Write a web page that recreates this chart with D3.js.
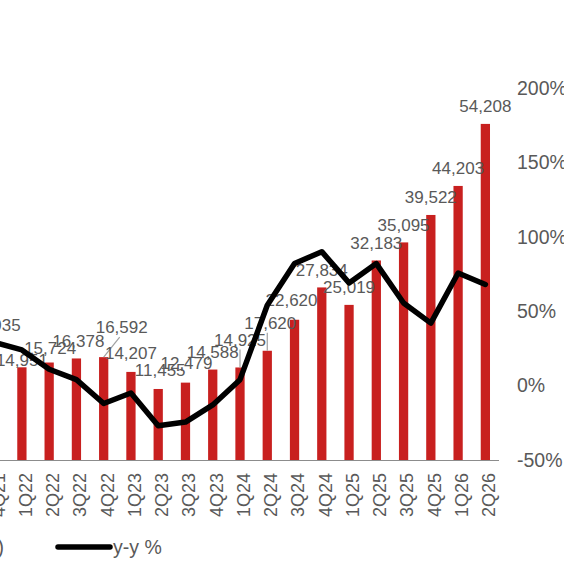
<!DOCTYPE html>
<html>
<head>
<meta charset="utf-8">
<script src="https://cdn.jsdelivr.net/npm/d3@7"></script>
<style>
  html, body { margin: 0; padding: 0; background: #fff; overflow: hidden; }
  svg { display: block; font-family: "Liberation Sans", Arial, Helvetica, sans-serif; }
  .lbl { fill: #595959; font-size: 17px; }
  .axis text { fill: #595959; }
</style>
</head>
<body>
<div id="chart"></div>
<script>
// Data___________________________________________________________
const quarters = ["4Q21", "1Q22", "2Q22", "3Q22", "4Q22", "1Q23", "2Q23", "3Q23", "4Q23",
  "1Q24", "2Q24", "3Q24", "4Q24", "1Q25", "2Q25", "3Q25", "4Q25", "1Q26", "2Q26"];
const revenue = [18935, 14951, 15724, 16378, 16592, 14207, 11455, 12479, 14588,
  14925, 17620, 22620, 27834, 25019, 32183, 35095, 39522, 44203, 54208];
const yoy = [29, 24, 11, 4, -12, -5, -27, -24.5, -13,
  4, 54, 82, 90, 69, 82, 55.5, 42, 75.7, 68];
const pctTicks = [-50, 0, 50, 100, 150, 200];

// label nudges (px) for the hand-moved data labels
const labelNudge = {
  "1Q22": [0, 11], "2Q22": [1, 3], "3Q22": [2, 0], "4Q22": [18, -12, true],
  "1Q23": [0, -1], "2Q23": [2, -1], "3Q23": [1, -2],
  "1Q24": [0, -10, true], "2Q24": [3, -10, true], "3Q24": [-3, -2]
};

// Layout_________________________________________________________
const width = 564, height = 564;
const svg = d3.select("#chart").append("svg")
  .attr("width", width).attr("height", height);

const x = d3.scaleBand()
  .domain(quarters)
  .range([-19, 499])
  .paddingInner(0.66)
  .paddingOuter(0.33);

const yLeft = d3.scaleLinear().domain([0, 60000]).range([460, 88]);
const yRight = d3.scaleLinear().domain([-50, 200]).range([460, 88]);

// Bars
svg.append("g").selectAll("rect")
  .data(quarters)
  .enter()
  .append("rect")
  .attr("x", d => x(d))
  .attr("width", x.bandwidth())
  .attr("y", (d, i) => yLeft(revenue[i]))
  .attr("height", (d, i) => yLeft(0) - yLeft(revenue[i]))
  .attr("fill", "#c8201f");

// X axis
const xAxis = d3.axisBottom(x).tickSize(0).tickSizeOuter(0);
const gx = svg.append("g")
  .attr("class", "axis")
  .attr("transform", `translate(0, ${yLeft(0)})`)
  .call(xAxis);
gx.select(".domain").attr("stroke", "#8c8c8c").attr("stroke-width", 1.2)
  .attr("d", `M${x.range()[0]},0.5H${x.range()[1]}`);
gx.selectAll("text")
  .attr("transform", "rotate(-90)")
  .attr("text-anchor", "end")
  .attr("x", -13)
  .attr("y", 0)
  .attr("dy", "0.55em")
  .style("font-size", "18px");

// Right axis
const yAxis = d3.axisRight(yRight)
  .tickValues(pctTicks)
  .tickSize(0)
  .tickPadding(5)
  .tickFormat(d => d + "%");
const gy = svg.append("g")
  .attr("class", "axis")
  .attr("transform", "translate(512, 0)")
  .call(yAxis);
gy.select(".domain").remove();
gy.selectAll("text").style("font-size", "19.5px");

// Data labels with leader lines
const cx = d => x(d) + x.bandwidth() / 2;
const labelPos = (d, i) => {
  const n = labelNudge[d] || [0, 0];
  return [cx(d) + n[0], yLeft(revenue[i]) - 18 + n[1]];
};
svg.append("g").selectAll("line")
  .data(quarters.filter(d => labelNudge[d] && labelNudge[d][2]))
  .enter()
  .append("line")
  .attr("x1", d => cx(d))
  .attr("y1", d => yLeft(revenue[quarters.indexOf(d)]))
  .attr("x2", d => {
    const p = labelPos(d, quarters.indexOf(d));
    return d === "4Q22" ? p[0] - 2 : cx(d);
  })
  .attr("y2", d => labelPos(d, quarters.indexOf(d))[1] + 10)
  .attr("stroke", "#a0a0a0")
  .attr("stroke-width", 1.2);

svg.append("g").selectAll("text")
  .data(quarters)
  .enter()
  .append("text")
  .attr("class", "lbl")
  .attr("text-anchor", "middle")
  .attr("x", (d, i) => labelPos(d, i)[0])
  .attr("y", (d, i) => labelPos(d, i)[1])
  .attr("dy", "0.36em")
  .text((d, i) => d3.format(",")(revenue[i]));

// y-y line
const line = d3.line()
  .x((d, i) => cx(quarters[i]))
  .y(d => yRight(d));
svg.append("path")
  .datum(yoy)
  .attr("d", line)
  .attr("fill", "none")
  .attr("stroke", "#000")
  .attr("stroke-width", 5.5)
  .attr("stroke-linejoin", "round")
  .attr("stroke-linecap", "round");

// Legend
const legend = svg.append("g").attr("transform", "translate(0, 547)");
legend.append("text")
  .attr("x", 4).attr("dy", "0.36em")
  .attr("text-anchor", "end")
  .style("font-size", "19.5px").attr("fill", "#595959")
  .text("Revenue (US$m)");
legend.append("line")
  .attr("x1", 58).attr("x2", 110)
  .attr("stroke", "#000").attr("stroke-width", 5.5)
  .attr("stroke-linecap", "round");
legend.append("text")
  .attr("x", 113).attr("dy", "0.36em")
  .style("font-size", "19.5px").attr("fill", "#595959")
  .text("y-y %");
</script>
</body>
</html>
